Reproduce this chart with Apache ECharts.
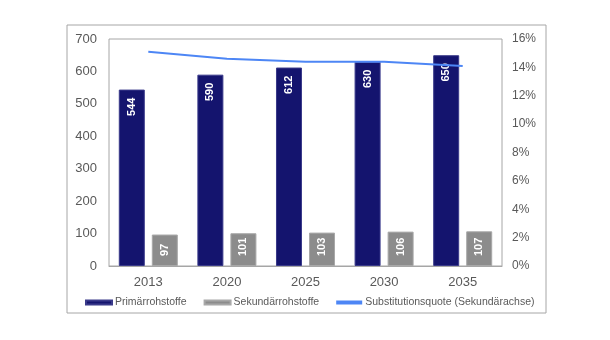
<!DOCTYPE html>
<html><head><meta charset="utf-8">
<script src="https://cdn.jsdelivr.net/npm/echarts@6/dist/echarts.min.js"></script>
<style>html,body{margin:0;padding:0;background:#fff}#c{width:610px;height:340px}</style>
</head><body><div id="c"></div>
<script>
var categories = ['2013','2020','2025','2030','2035'];
var primaer = [544, 590, 612, 630, 650];
var sekundaer = [97, 101, 103, 106, 107];
var quote = [15.1, 14.6, 14.4, 14.4, 14.1];
var leftTicks = [0, 700, 100];
var rightTicks = [0, 16, 2];

var chart = echarts.init(document.getElementById('c'));
var font = 'Liberation Sans, Arial, sans-serif';
var lblTop = {show:true, position:'insideTop', distance:8, rotate:90, align:'right', verticalAlign:'middle', color:'#fff', fontWeight:'bold', fontSize:11, fontFamily:font};
var lblMid = {show:true, position:'insideBottom', distance:10, rotate:90, align:'left', verticalAlign:'middle', color:'#fff', fontWeight:'bold', fontSize:11, fontFamily:font};
chart.setOption({
  animation:false,
  graphic:[{type:'rect', shape:{x:67,y:25,width:479,height:288}, style:{fill:'none', stroke:'#a6a6a6', lineWidth:1}, silent:true}],
  grid:{left:109, top:39, right:108, bottom:74, show:true, borderColor:'#a6a6a6', borderWidth:1, containLabel:false},
  legend:{left:80, top:292, itemWidth:26, itemHeight:4, itemGap:17,
    textStyle:{color:'#595959', fontSize:10.5, fontFamily:font, padding:[0,0,0,-2]},
    data:[{name:'Primärrohstoffe', icon:'rect'},{name:'Sekundärrohstoffe', icon:'rect'},{name:'Substitutionsquote (Sekundärachse)', icon:'rect'}]},
  xAxis:{type:'category', data:categories,
    axisLine:{lineStyle:{color:'#a6a6a6'}}, axisTick:{show:false},
    axisLabel:{color:'#595959', fontSize:13, margin:10, fontFamily:font}},
  yAxis:[
    {type:'value', min:leftTicks[0], max:leftTicks[1], interval:leftTicks[2], splitLine:{show:false},
     axisLine:{show:false}, axisTick:{show:false},
     axisLabel:{color:'#595959', fontSize:13, margin:12, fontFamily:font}},
    {type:'value', min:rightTicks[0], max:rightTicks[1], interval:rightTicks[2], splitLine:{show:false},
     axisLine:{show:false}, axisTick:{show:false},
     axisLabel:{color:'#595959', fontSize:12, margin:10, formatter:'{value}%', fontFamily:font}}
  ],
  series:[
    {name:'Primärrohstoffe', type:'bar', data:primaer, barWidth:26, barGap:'27%',
     itemStyle:{color:'#14146e', borderColor:'#3a3a8a', borderWidth:1}, label:lblTop},
    {name:'Sekundärrohstoffe', type:'bar', data:sekundaer, barWidth:26,
     itemStyle:{color:'#8c8c8c', borderColor:'#a8a8a8', borderWidth:1}, label:lblMid},
    {name:'Substitutionsquote (Sekundärachse)', type:'line', yAxisIndex:1, data:quote,
     symbol:'none', lineStyle:{color:'#4d86f5', width:2}, itemStyle:{color:'#4d86f5'}}
  ]
});
</script></body></html>
